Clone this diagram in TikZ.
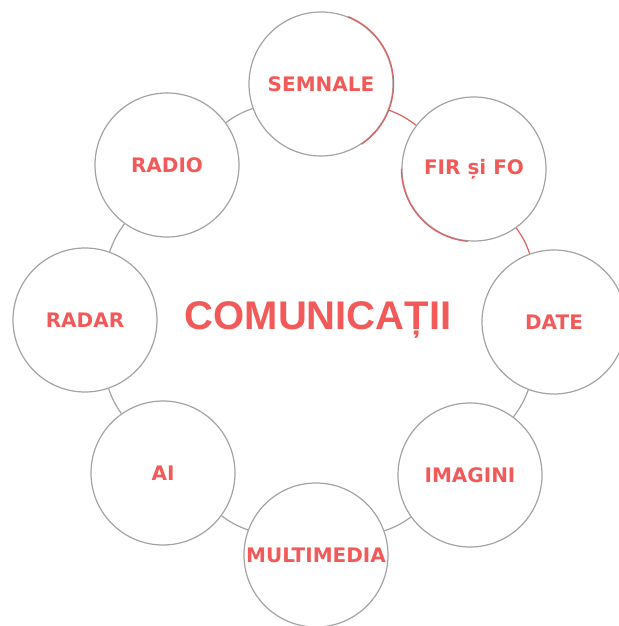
\documentclass[tikz,border=0pt]{standalone}
\usepackage{fontspec}
\newfontfamily\labelfont{DejaVu Sans}
\newfontfamily\titlefont{Liberation Sans}
\definecolor{labelred}{HTML}{F25A5A}
\definecolor{ringgray}{HTML}{A3A3A3}
\definecolor{ringred}{HTML}{E06060}

\begin{document}
\begin{tikzpicture}[x=1pt,y=1pt]
\tikzset{
  topic/.style={circle, draw=ringgray, line width=1.2pt, fill=white, minimum size=144pt, inner sep=0pt,
    text=labelred, font=\labelfont\bfseries\fontsize{20}{20}\selectfont},
  link/.style={draw=ringgray, line width=1.2pt},
  hilite/.style={draw=ringred, line width=1.2pt}
}
\useasboundingbox (0,0) rectangle (618,626);
\node[text=labelred, font=\titlefont\bfseries\fontsize{40}{40}\selectfont] (main) at (318,306) {COMUNICAȚII};
\node[topic] (semnale) at (321,542) {SEMNALE};
\node[topic] (fir) at (474,457) {FIR și FO};
\node[topic] (date) at (554,304) {DATE};
\node[topic] (imagini) at (470,151) {IMAGINI};
\node[topic] (multimedia) at (316,71) {MULTIMEDIA};
\node[topic] (ai) at (163,153) {AI};
\node[topic] (radar) at (85,306) {RADAR};
\node[topic] (radio) at (167,461) {RADIO};
\draw[hilite] (semnale) to[bend left=8] (fir);
\draw[hilite] (fir) to[bend left=8] (date);
\draw[link] (date) to[bend left=8] (imagini);
\draw[link] (imagini) to[bend left=8] (multimedia);
\draw[link] (multimedia) to[bend left=8] (ai);
\draw[link] (ai) to[bend left=8] (radar);
\draw[link] (radar) to[bend left=8] (radio);
\draw[link] (radio) to[bend left=8] (semnale);
\draw[hilite] (semnale.68) arc[start angle=68, end angle=-56, radius=72.6pt];
\draw[hilite] (fir.180) arc[start angle=180, end angle=265, radius=72.6pt];
\end{tikzpicture}
\end{document}
